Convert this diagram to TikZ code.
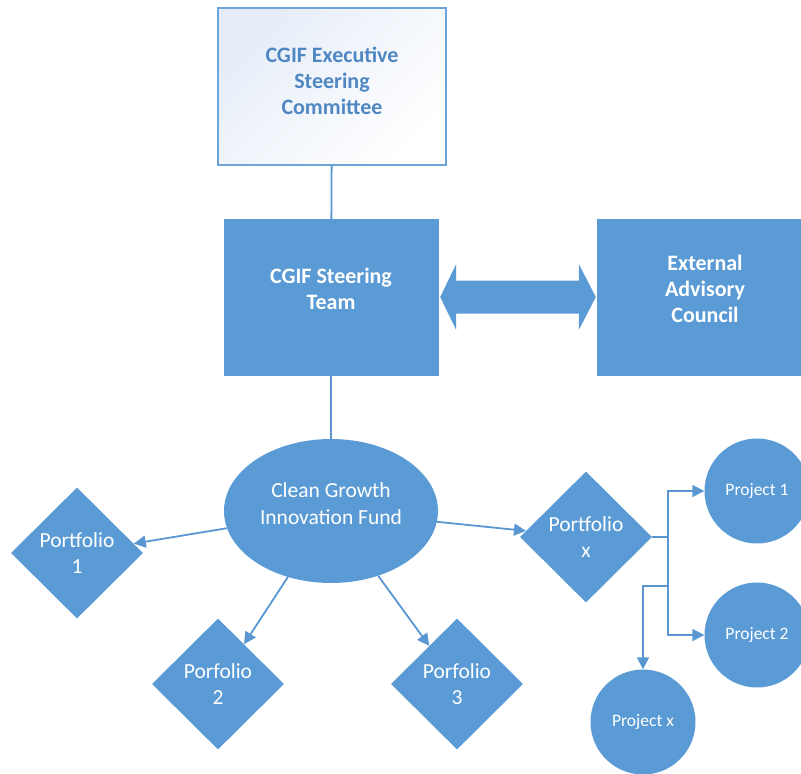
\documentclass[tikz,border=0pt]{standalone}
\usepackage{fontspec}
\setmainfont{Carlito}
\usepackage{xcolor}
\usepackage{tikz}
\definecolor{blockblue}{HTML}{5B9BD5}
\definecolor{lineblue}{HTML}{5A97D2}
\definecolor{titleblue}{HTML}{4F87C3}
\definecolor{paleblue}{HTML}{E6EDF8}
\usetikzlibrary{shapes, arrows.meta, positioning, calc}

\begin{document}
\begin{tikzpicture}[
    x=1pt, y=-1pt,
    board/.style={draw=blockblue, fill=blockblue, rectangle, inner sep=0pt, align=center,
        text depth=17pt, text=white, font=\fontsize{22}{26}\selectfont\bfseries},
    fund/.style={ellipse, fill=blockblue, inner sep=0pt, align=center, text depth=14pt,
        text=white, font=\fontsize{21.5}{27}\selectfont},
    portfolio/.style={diamond, fill=blockblue, inner sep=0pt, minimum width=132pt, minimum height=131pt,
        align=center, text=white, font=\fontsize{21.5}{26}\selectfont},
    project/.style={circle, fill=blockblue, inner sep=0pt, minimum size=105pt,
        text=white, font=\fontsize{17.5}{20}\selectfont},
    link/.style={draw=lineblue, line width=1.8pt},
    arrow/.style={link, -{Stealth[length=12pt, width=12pt, inset=0pt]}}
]
    \clip (0,0) rectangle (801,774);

    % Committee
    \node[board, draw=blockblue!90, line width=1.2pt, left color=paleblue, right color=white,
        shading angle=45, text=titleblue, text depth=12pt, minimum width=228pt, minimum height=157pt] (esc) at (332,86.5) {
        CGIF Executive\\
        Steering\\
        Committee
    };

    % Steering team
    \node[board, minimum width=214pt, minimum height=156pt] (team) at (331,297) {
        CGIF Steering\\
        Team
    };

    % Advisory council
    \node[board, minimum width=216pt, minimum height=156pt] (council) at (705,297) {
        External\\
        Advisory\\
        Council
    };

    % Fund
    \node[fund, minimum width=214pt, minimum height=144pt] (cgif) at (331,511) {
        Clean Growth\\
        Innovation Fund
    };

    % Portfolios
    \node[portfolio] (p1) at (77,553) {Portfolio\\ 1};
    \node[portfolio] (p2) at (218,684) {Porfolio\\ 2};
    \node[portfolio] (p3) at (457,684) {Porfolio\\ 3};
    \node[portfolio] (px) at (586,537) {Portfolio\\ x};

    % Projects
    \node[project] (pr1) at (757,491) {Project 1};
    \node[project] (pr2) at (757,635) {Project 2};
    \node[project] (prx) at (643,722) {Project x};

    % Links
    \draw[link] (esc) -- (team);
    \draw[link] (team) -- (cgif);

    % Two-way arrow
    \fill[blockblue] ($(team.east)+(2,0)$) -- ++(16,33) -- ++(0,-16.5)
        -- ($(council.west)+(-18,16.5)$) -- ++(0,16.5) -- ($(council.west)+(-1,0)$)
        -- ++(-17,-33) -- ++(0,16.5) -- ($(team.east)+(18,-16.5)$) -- ++(0,-16.5) -- cycle;

    % Arrows to portfolios
    \draw[arrow] (cgif) -- (p1);
    \draw[arrow] (cgif) -- (p2);
    \draw[arrow] (cgif) -- (p3);
    \draw[arrow] (cgif) -- (px);

    % Arrows to projects
    \coordinate (jn) at ($(px.east)+(16,0)$);
    \coordinate (jx) at ($(jn)+(0,49)$);
    \draw[link] (px.east) -- (jn);
    \draw[arrow] (jn) |- (pr1.west);
    \draw[arrow] (jn) |- (pr2.west);
    \draw[arrow] (jx) -| (prx.north);
\end{tikzpicture}
\end{document}
